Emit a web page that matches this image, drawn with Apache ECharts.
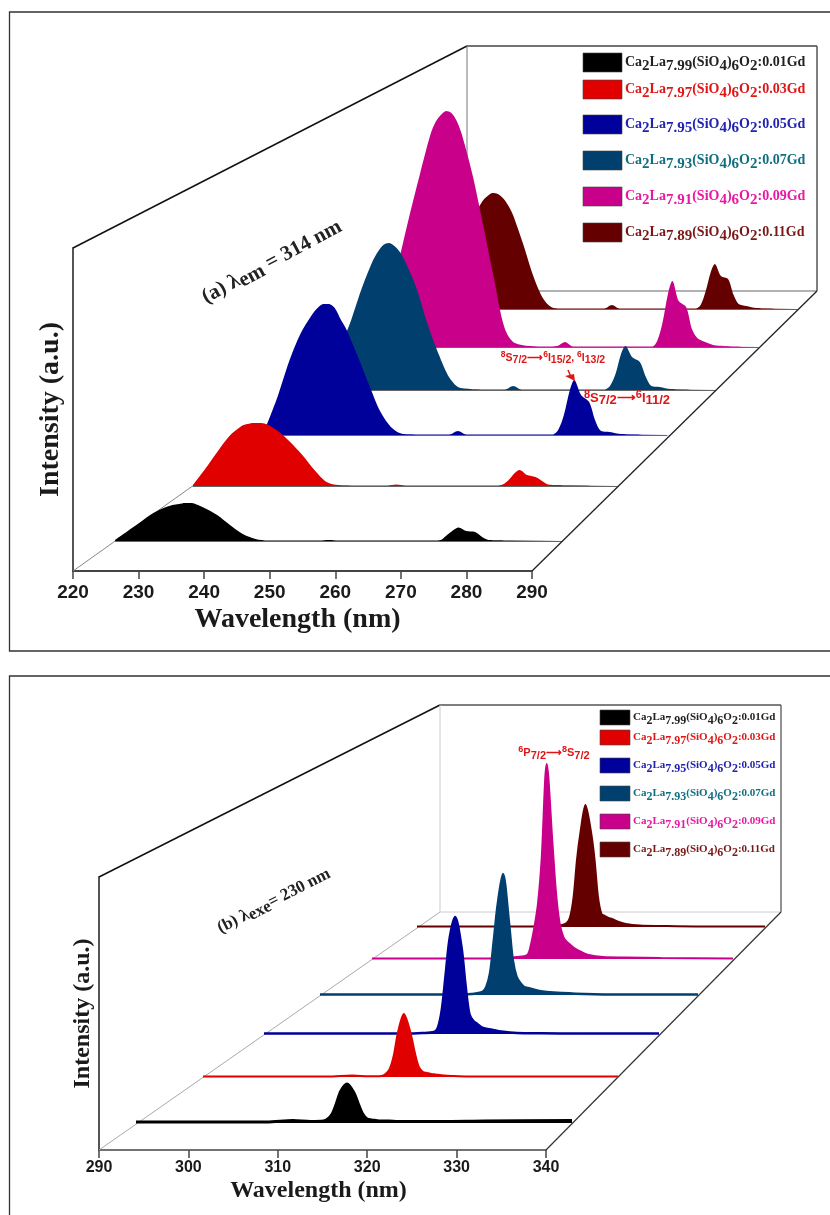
<!DOCTYPE html>
<html lang="en">
<head>
    <meta charset="UTF-8">
    <title>Ca2La8(SiO4)6O2:Gd spectra</title>
    <script src="https://cdn.jsdelivr.net/npm/echarts/dist/echarts.min.js"></script>
    <style>
        html, body { margin: 0; background: #fff; }
        #chart { width: 830px; height: 1215px; }
    </style>
</head>
<body>
    <div id="chart"></div>

    <script>
        // Legend text for both panels
        var laSubs = ['7.99', '7.97', '7.95', '7.93', '7.91', '7.89'];
        var gdAmounts = ['0.01', '0.03', '0.05', '0.07', '0.09', '0.11'];

        // Panel (a): excitation spectra
        var waveA = [220, 222, 224, 226, 228, 229, 230, 231, 232, 233, 234, 236, 238, 240, 242, 244, 250,
            252, 253.5, 255, 265, 270, 271, 272, 273, 273.8, 275, 276.4, 277.5, 278.5, 280, 282, 290];
        var excBlack = [1, 10, 19, 28, 34, 36, 37, 38, 38, 36, 33, 26, 16, 7, 2, 0.5, 0.5,
            0.5, 1, 0.5, 0.5, 0.5, 1, 6, 11, 13.5, 10, 9, 4, 1, 0.8, 0.5, 0.5];
        var excRed = [1, 17, 34, 50, 60, 62, 63, 63, 62, 59, 55, 44, 31, 16, 4, 1, 0.5,
            0.5, 1.5, 0.5, 0.5, 0.5, 1.5, 6, 13, 16, 11, 9, 5, 1.5, 1, 0.8, 0.5];
        var excBlue = [8, 38, 73, 101, 120, 127, 131, 131, 127, 116, 106, 79, 50, 23, 7, 1, 0.5,
            0.5, 4, 0.5, 0.5, 0.5, 5, 20, 44, 55, 40, 33, 14, 4, 3, 1, 0.5];
        var excTeal = [12, 40, 67, 100, 128, 138, 145, 147, 144, 138, 128, 102, 66, 36, 12, 2, 0.5,
            0.5, 4, 0.5, 0.5, 0.5, 4, 16, 36, 44, 33, 28, 13, 4, 3, 1, 0.5];
        var excMagenta = [40, 85, 130, 172, 212, 225, 232, 236, 234, 226, 212, 172, 122, 70, 20, 4, 0.5,
            1, 5, 0.5, 0.5, 0.5, 7, 26, 54, 66, 46, 40, 18, 9, 5, 1.5, 0.5];
        var excMaroon = [10, 35, 65, 90, 108, 113, 116, 115, 111, 104, 94, 65, 33, 10, 1, 0.5, 0.5,
            0.5, 4, 0.5, 0.5, 0.5, 4, 18, 37, 45, 33, 30, 14, 5, 3, 1, 0.5];
        var ticksA = [220, 290, 10];

        // Panel (b): emission spectra
        var waveB = [290, 300, 305, 308, 310, 311.5, 312, 312.5, 313, 313.5, 314.2, 315, 315.5, 316, 316.5,
            317, 317.5, 318, 319, 320, 322, 325, 330, 340];
        var emBlack = [1, 1, 1, 2.5, 1.5, 2, 4, 9, 20, 32, 39, 30, 19, 9, 4, 3, 2.5, 2, 2, 1.5, 1.5, 1.5, 2, 2.5];
        var emRed = [0.5, 0.5, 0.5, 1.5, 0.7, 1, 3, 8, 22, 45, 63, 44, 25, 10, 5, 4, 3, 2.5, 1.5, 1, 0.5, 0.5, 0.5, 0.5];
        var emBlue = [0.5, 0.5, 0.5, 0.5, 1, 2, 6, 24, 60, 96, 117, 87, 50, 20, 13, 10, 7, 5.5, 4, 2.5, 1, 0.7, 0.5, 0.5];
        var emTeal = [0.5, 0.5, 0.5, 0.5, 1, 3, 8, 22, 55, 90, 121, 72, 35, 18, 12, 8, 7, 6, 4, 3, 2, 1, 0.5, 0.5];
        var emMagenta = [0.5, 0.5, 0.5, 0.5, 2, 4, 14, 32, 56, 100, 195, 115, 65, 35, 22, 17, 14, 11, 7, 4, 2, 1.5, 1, 0.5];
        var emMaroon = [0.5, 0.5, 0.5, 0.5, 1, 4, 10, 30, 68, 95, 122, 95, 68, 30, 13, 11, 9, 8, 5, 3, 1.5, 1, 0.5, 0.5];
        var ticksB = [290, 340, 10];

        // Fill and legend text colours, front layer first
        var fills = ['#000000', '#e00000', '#00009a', '#003f6e', '#c9008a', '#650000'];
        var labelColors = ['#222222', '#e01515', '#2222b0', '#0f6f80', '#e818a5', '#7a1818'];

        // Layer placement in the picture (front to back)
        var baseA = [541, 486, 435, 390, 347, 309];
        var leftA = [115, 193, 266, 328, 388, 442];
        var rightA = [562, 618, 667, 715, 758, 797];
        var baseB = [1123, 1077, 1034, 995, 959, 927];
        var leftB = [136, 203, 264, 320, 372, 417];
        var rightB = [572, 618, 659, 698, 733, 765];
        var lineWidthsA = [0, 0, 0, 0, 0, 0];
        var lineWidthsB = [3, 2, 2.5, 2.5, 2, 2];

        var grids = [], xAxes = [], yAxes = [], series = [];

        // Each spectrum gets its own grid, slid back along the floor of the box
        function addLayers(wave, spectra, base, left, right, range, yMax, opts) {
            spectra.forEach(function (values, i) {
                var idx = grids.length;
                grids.push({ left: left[i], width: right[i] - left[i], top: base[i] - yMax, height: yMax });
                xAxes.push({
                    gridIndex: idx, type: 'value', min: range[0], max: range[1],
                    axisLine: { show: opts.baselineLine, onZero: false, lineStyle: { color: '#666', width: 1 } },
                    axisTick: { show: false }, axisLabel: { show: false }, splitLine: { show: false }
                });
                yAxes.push({ gridIndex: idx, type: 'value', min: 0, max: yMax, show: false, splitLine: { show: false } });
                series.push({
                    type: 'line', name: 'x=' + gdAmounts[i], xAxisIndex: idx, yAxisIndex: idx,
                    data: wave.map(function (w, k) { return [w, values[k]]; }),
                    smooth: 0.3, showSymbol: false, symbol: 'none', silent: true,
                    lineStyle: { color: fills[i], width: opts.lineWidths[i] },
                    areaStyle: { color: fills[i], opacity: 1, origin: 'start' },
                    z: 20 - i
                });
            });
        }

        // The front axes, with the labels
        function addFrame(x0, x1, yTop, yBottom, range, opts) {
            var idx = grids.length;
            grids.push({ left: x0, width: x1 - x0, top: yTop, height: yBottom - yTop });
            xAxes.push({
                gridIndex: idx, type: 'value', min: range[0], max: range[1], interval: range[2],
                name: 'Wavelength (nm)', nameLocation: 'middle', nameGap: opts.xNameGap,
                nameTextStyle: { fontFamily: 'Liberation Serif', fontWeight: 'bold', fontSize: opts.xNameSize, color: '#1a1a1a', padding: [0, opts.xNamePad, 0, 0] },
                axisLine: { lineStyle: { color: '#444', width: opts.axisWidth } },
                axisTick: { length: 8, lineStyle: { color: '#444', width: 1.5 } },
                axisLabel: { fontFamily: 'Liberation Sans', fontWeight: 'bold', fontSize: opts.tickSize, color: '#1a1a1a', margin: opts.tickMargin },
                splitLine: { show: false }
            });
            yAxes.push({
                gridIndex: idx, type: 'value', min: 0, max: 1,
                name: 'Intensity (a.u.)', nameLocation: 'middle', nameGap: opts.yNameGap, nameRotate: 90,
                nameTextStyle: { fontFamily: 'Liberation Serif', fontWeight: 'bold', fontSize: opts.yNameSize, color: '#1a1a1a' },
                axisLine: { show: true, lineStyle: { color: '#555', width: 2 } },
                axisTick: { show: false }, axisLabel: { show: false }, splitLine: { show: false }
            });
        }

        addLayers(waveA, [excBlack, excRed, excBlue, excTeal, excMagenta, excMaroon], baseA, leftA, rightA, ticksA, 250,
            { baselineLine: true, lineWidths: lineWidthsA });
        addFrame(73, 532, 248, 571, ticksA,
            { xNameGap: 35, xNameSize: 28, xNamePad: 10, axisWidth: 2, tickSize: 19, tickMargin: 12, yNameGap: 8, yNameSize: 28 });
        addLayers(waveB, [emBlack, emRed, emBlue, emTeal, emMagenta, emMaroon], baseB, leftB, rightB, ticksB, 200,
            { baselineLine: false, lineWidths: lineWidthsB });
        addFrame(99, 546, 877, 1150, ticksB,
            { xNameGap: 29, xNameSize: 24, xNamePad: 8, axisWidth: 1.5, tickSize: 16, tickMargin: 10, yNameGap: 4, yNameSize: 24 });

        // Box lines and panel borders
        function seg(x1, y1, x2, y2, color, width) {
            return { type: 'line', shape: { x1: x1, y1: y1, x2: x2, y2: y2 }, style: { stroke: color, lineWidth: width }, z: 1, silent: true };
        }

        // Rich text pieces for a formula like Ca2La7.99(SiO4)6O2:0.01Gd
        function formula(i) {
            return '{n|Ca}{s|2}{n|La}{s|' + laSubs[i] + '}{n|(SiO}{s|4}{n|)}{s|6}{n|O}{s|2}{n|:' + gdAmounts[i] + 'Gd}';
        }

        function legendItems(x, ys, swatchW, swatchH, size, drop) {
            var out = [];
            ys.forEach(function (y, i) {
                out.push({ type: 'rect', shape: { x: x, y: y, width: swatchW, height: swatchH },
                    style: { fill: fills[i], stroke: '#444', lineWidth: 0.6 }, z: 5, silent: true });
                out.push({ type: 'text', z: 5, silent: true, x: x + swatchW + 3, y: y + swatchH / 2, style: {
                    text: formula(i), fill: labelColors[i], verticalAlign: 'middle', align: 'left',
                    rich: {
                        n: { fontFamily: 'Liberation Serif', fontWeight: 'bold', fontSize: size, fill: labelColors[i] },
                        s: { fontFamily: 'Liberation Serif', fontWeight: 'bold', fontSize: size + 1, fill: labelColors[i], padding: [drop, 0, 0, 0] }
                    }
                } });
            });
            return out;
        }

        function levelText(text, x, y, size, drop, sup, rotation, family, align) {
            return { type: 'text', z: 30, silent: true, x: x, y: y, rotation: rotation || 0, style: {
                text: text, fill: family ? '#e01515' : '#222', align: align || 'center', verticalAlign: 'middle',
                rich: {
                    n: { fontFamily: family || 'Liberation Serif', fontWeight: 'bold', fontSize: size, fill: family ? '#e01515' : '#222' },
                    s: { fontFamily: family || 'Liberation Serif', fontWeight: 'bold', fontSize: size, fill: family ? '#e01515' : '#222', padding: [drop, 0, 0, 0] },
                    u: { fontFamily: family || 'Liberation Serif', fontWeight: 'bold', fontSize: size - 2, fill: family ? '#e01515' : '#222', padding: [0, 0, sup, 0] }
                }
            } };
        }

        var graphics = [
            { type: 'rect', shape: { x: 9.5, y: 12, width: 840, height: 639 }, style: { fill: 'none', stroke: '#333', lineWidth: 1.3 }, z: 1, silent: true },
            { type: 'rect', shape: { x: 9.5, y: 676, width: 840, height: 560 }, style: { fill: 'none', stroke: '#333', lineWidth: 1.3 }, z: 1, silent: true },
            // panel (a) box
            seg(73, 248, 467, 46, '#111', 1.5),
            seg(467, 46, 817, 46, '#444', 1.5),
            seg(817, 46, 817, 291, '#555', 1.5),
            seg(467, 46, 467, 291, '#777', 1),
            seg(467, 291, 817, 291, '#666', 1),
            seg(817, 291, 532, 571, '#222', 1.3),
            seg(73, 571, 467, 291, '#888', 1),
            // panel (b) box
            seg(99, 877, 440, 705, '#111', 1.5),
            seg(440, 705, 781, 705, '#555', 1.3),
            seg(781, 705, 781, 912, '#555', 1.3),
            seg(440, 705, 440, 912, '#ccc', 1),
            seg(440, 912, 781, 912, '#ccc', 1),
            seg(781, 912, 546, 1150, '#333', 1.2),
            seg(99, 1150, 440, 912, '#aaa', 1),
            // arrow to the 8S7/2 peak
            { type: 'line', shape: { x1: 568, y1: 370, x2: 571, y2: 377 }, style: { stroke: '#e01515', lineWidth: 1.5 }, z: 30, silent: true },
            { type: 'polygon', shape: { points: [[565, 376], [574, 374], [575, 381]] }, style: { fill: '#e01515' }, z: 30, silent: true },
            levelText('{n|(a) λ}{s|em}{n| = 314 nm}', 272, 262, 21, 6, 0, 0.49),
            levelText('{n|(b) λ}{s|exe}{n|= 230 nm}', 274, 901, 17, 5, 0, 0.47),
            levelText('{u|8}{n|S}{s|7/2}{n|⟶}{u|6}{n|I}{s|15/2}{n|, }{u|6}{n|I}{s|13/2}', 553, 358, 10.5, 4, 6, 0, 'Liberation Sans'),
            levelText('{u|8}{n|S}{s|7/2}{n|⟶}{u|6}{n|I}{s|11/2}', 627, 398, 13, 5, 7, 0, 'Liberation Sans'),
            levelText('{u|6}{n|P}{s|7/2}{n|⟶}{u|8}{n|S}{s|7/2}', 554, 753, 11, 5, 7, 0, 'Liberation Sans')
        ]
            .concat(legendItems(583, [53, 80, 115, 151, 187, 223], 39, 19, 14, 7))
            .concat(legendItems(600, [710, 730, 758, 786, 814, 842], 30, 15, 11, 6));

        var myChart = echarts.init(document.getElementById('chart'), null, { renderer: 'canvas' });
        myChart.setOption({
            animation: false,
            backgroundColor: '#ffffff',
            grid: grids,
            xAxis: xAxes,
            yAxis: yAxes,
            series: series,
            graphic: graphics
        });
    </script>
</body>
</html>
